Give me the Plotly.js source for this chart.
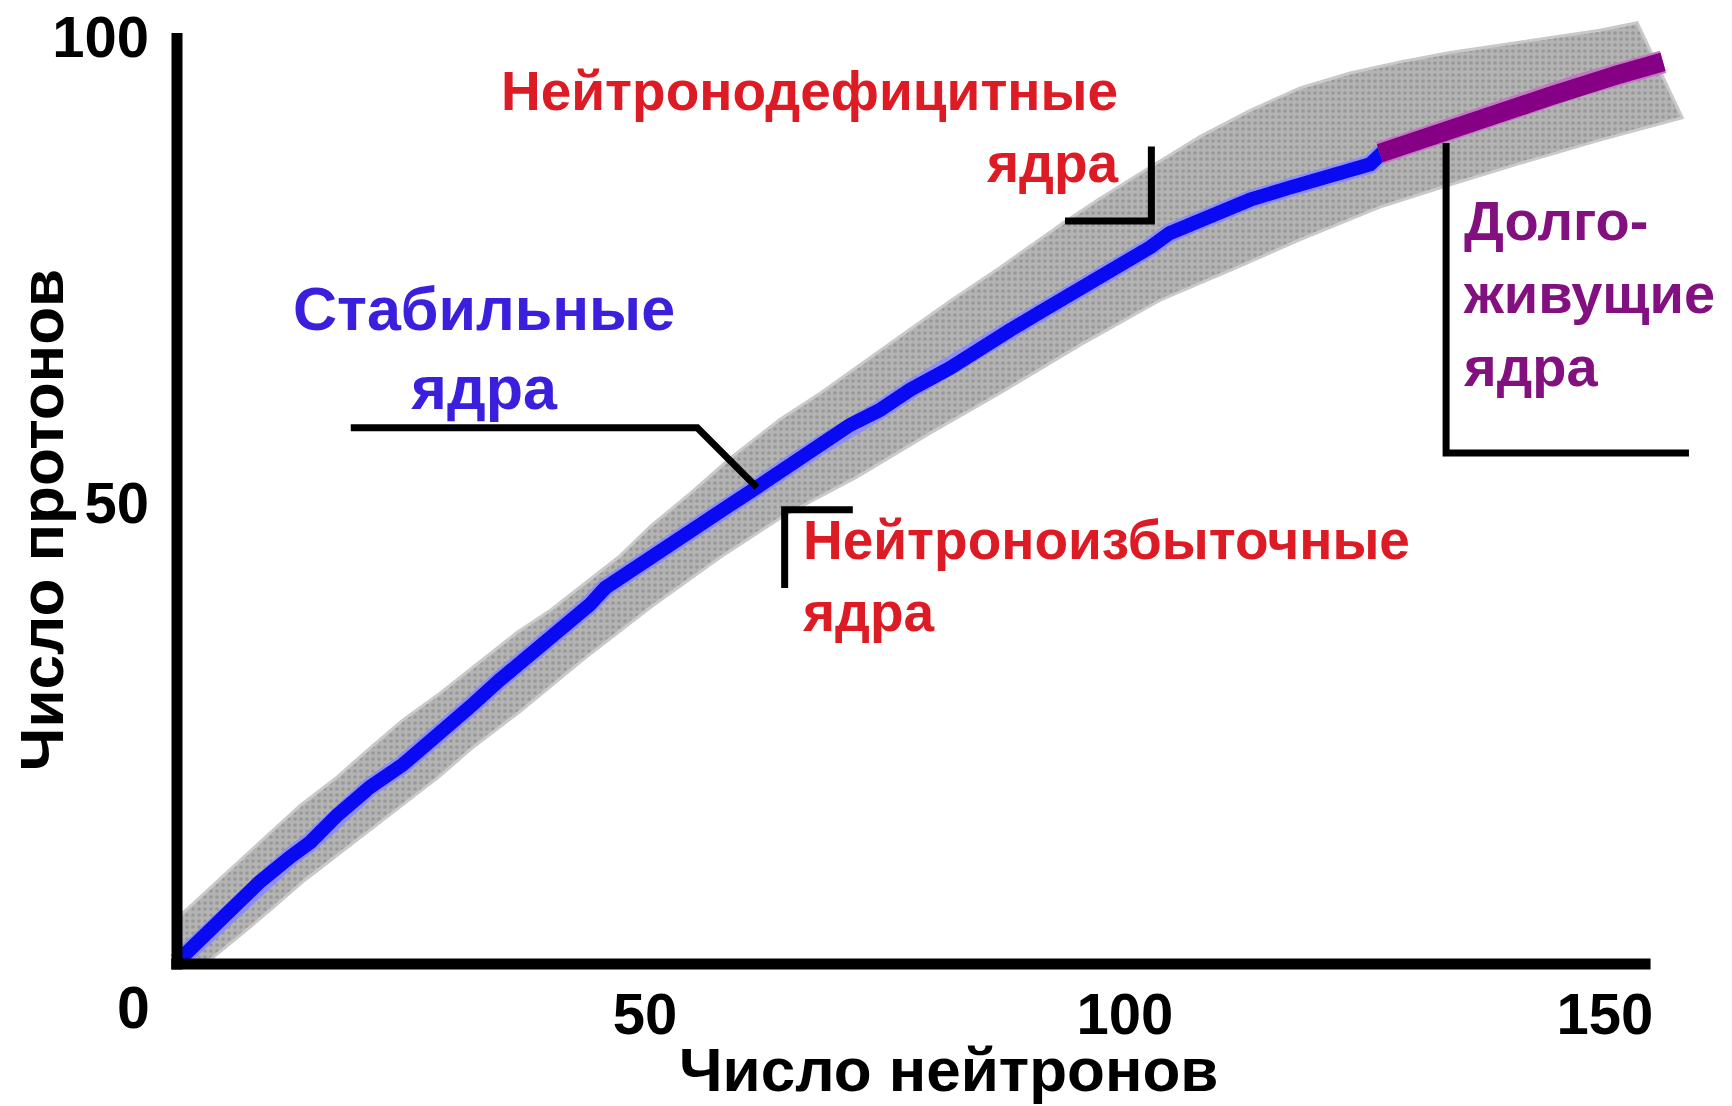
<!DOCTYPE html>
<html>
<head>
<meta charset="utf-8">
<script src="https://cdn.plot.ly/plotly-3.0.1.min.js"></script>
<style>
  html, body { margin: 0; padding: 0; background: #ffffff; }
  #chart { width: 1732px; height: 1106px; }
</style>
</head>
<body>
<div id="chart"></div>
<script>
// ---------- DATA ----------
// Stable nuclei line (blue)
const neutronsStable = [0.0, 2.4, 5.5, 8.6, 11.8, 13.9, 16.7, 20.1, 23.5, 26.4, 30.5, 33.6, 36.8, 39.9, 43.0, 44.6, 47.2, 50.3, 54.5, 57.6, 60.4, 63.9, 67.0, 70.1, 73.2, 76.4, 80.5, 83.6, 86.8, 89.9, 93.0, 95.1, 97.2, 99.3, 101.4, 103.4, 106.6, 111.8, 115.9, 119.1, 122.2, 124.3, 125.6];
const protonsStable  = [0.2, 2.6, 5.8, 8.8, 11.5, 13.1, 16.0, 19.0, 21.4, 23.8, 27.6, 30.5, 33.2, 35.7, 38.6, 40.4, 42.1, 44.3, 47.2, 49.3, 51.2, 53.6, 55.7, 57.9, 59.5, 61.7, 64.0, 66.2, 68.1, 70.0, 71.8, 73.3, 74.5, 75.8, 77.0, 78.5, 79.9, 82.1, 83.4, 84.4, 85.3, 85.9, 87.2];

// Long-lived nuclei line (purple)
const neutronsLong = [125.3, 127.4, 132.3, 135.7, 139.2, 143.0, 146.1, 150.3, 154.8];
const protonsLong  = [87.1, 87.9, 89.6, 90.8, 91.9, 93.2, 94.4, 95.6, 96.9];

// Grey band of known nuclei: upper (neutron-deficient) edge
const bandUpperN = [0.0, 2.4, 5.5, 9.7, 12.8, 16.7, 20.1, 23.5, 27.4, 30.5, 35.4, 38.9, 42.3, 46.1, 49.3, 53.4, 57.6, 62.8, 67.0, 70.1, 75.3, 80.5, 85.7, 92.3, 96.1, 101.4, 106.6, 111.8, 117.0, 122.2, 127.4, 132.6, 137.8, 143.0, 148.2, 152.1, 156.8];
const bandUpperZ = [4.9, 7.2, 10.1, 14.1, 17.0, 20.1, 23.2, 26.2, 29.1, 31.6, 35.6, 38.0, 40.7, 43.8, 47.0, 50.5, 54.3, 58.5, 61.3, 63.6, 67.4, 71.2, 74.8, 79.6, 82.2, 85.6, 88.9, 91.7, 94.1, 95.7, 96.9, 97.9, 98.7, 99.5, 100.3, 101.1, 90.9];
// lower (neutron-rich) edge
const bandLowerN = [0.0, 2.9, 6.6, 9.7, 13.3, 16.7, 20.1, 23.5, 27.4, 30.5, 35.7, 42.3, 49.3, 56.6, 63.3, 70.8, 78.4, 85.7, 94.1, 102.4, 109.7, 117.0, 125.3, 132.6, 139.9, 148.2, 156.8];
const bandLowerZ = [0.0, 0.0, 3.1, 5.8, 9.0, 11.7, 14.4, 17.1, 20.2, 23.0, 27.1, 32.7, 38.3, 43.7, 48.2, 52.3, 57.0, 61.3, 66.5, 71.3, 74.5, 77.8, 81.3, 83.7, 86.0, 88.5, 90.9];

// Axis ticks and texts
const xTickVals = [50, 100, 150];
const yTickVals = [50, 100];
const xTitle = 'Число нейтронов';
const yTitle = 'Число протонов';
const labelDeficient = 'Нейтронодефицитные<br>ядра';
const labelStable = 'Стабильные<br>ядра';
const labelExcess = 'Нейтроноизбыточные<br>ядра';
const labelLong = 'Долго-<br>живущие<br>ядра';

// ---------- BUILD ----------
const FONT = 'Liberation Sans, Arial, Helvetica, sans-serif';

const bandN = bandUpperN.concat(bandLowerN.slice().reverse());
const bandZ = bandUpperZ.concat(bandLowerZ.slice().reverse());

const traces = [
  {
    x: bandN, y: bandZ, type: 'scatter', mode: 'lines',
    fill: 'toself', fillcolor: '#b3b3b3',
    fillpattern: {shape: '.', bgcolor: '#b4b4b4', fgcolor: '#999999', size: 6, solidity: 0.3},
    line: {color: '#c9c9c9', width: 3},
    hoverinfo: 'skip', showlegend: false
  },
  {
    x: neutronsStable, y: protonsStable, type: 'scatter', mode: 'lines',
    line: {color: '#8e8ef6', width: 19}, hoverinfo: 'skip', showlegend: false
  },
  {
    x: neutronsStable, y: protonsStable, type: 'scatter', mode: 'lines',
    line: {color: '#0a0af2', width: 14}, hoverinfo: 'skip', showlegend: false
  },
  {
    x: neutronsLong, y: protonsLong, type: 'scatter', mode: 'lines',
    line: {color: '#c27ac2', width: 23}, hoverinfo: 'skip', showlegend: false
  },
  {
    x: neutronsLong, y: protonsLong, type: 'scatter', mode: 'lines',
    line: {color: '#850085', width: 19}, hoverinfo: 'skip', showlegend: false
  }
];

// pointer of the "stable" label ends on the stable line
const pStable = [neutronsStable[20], protonsStable[20]];

const blk = {color: '#000000', width: 7};
const shapes = [
  // axis lines
  {type: 'line', xref: 'x', yref: 'y', x0: 0, x1: 0, y0: -0.6, y1: 100, line: {color: '#000', width: 11}},
  {type: 'line', xref: 'x', yref: 'y', x0: -0.6, x1: 153.5, y0: 0, y1: 0, line: {color: '#000', width: 11}},
  // label pointers
  {type: 'path', xref: 'x', yref: 'y', path: `M 18.1 57.6 L 54.2 57.6 L ${pStable[0]} ${pStable[1]}`, line: blk},
  {type: 'path', xref: 'x', yref: 'y', path: 'M 92.5 79.8 L 101.5 79.8 L 101.5 87.8', line: blk},
  {type: 'path', xref: 'x', yref: 'y', path: 'M 63.3 40.4 L 63.3 48.8 L 70.4 48.8', line: blk},
  {type: 'path', xref: 'x', yref: 'y', path: 'M 132.2 88.2 L 132.2 54.9 L 157.5 54.9', line: blk}
];

const annotations = [
  {text: labelDeficient, xref: 'x', yref: 'y', x: 98.3, y: 89.9, xanchor: 'right', yanchor: 'middle', align: 'right',
   showarrow: false, font: {family: FONT, size: 55, color: '#dd1b24', weight: 'bold'}},
  {text: labelStable, xref: 'x', yref: 'y', x: 32.0, y: 66.1, xanchor: 'center', yanchor: 'middle', align: 'center',
   showarrow: false, font: {family: FONT, size: 61, color: '#3a20dc', weight: 'bold'}},
  {text: labelExcess, xref: 'x', yref: 'y', x: 64.9, y: 41.7, xanchor: 'left', yanchor: 'middle', align: 'left',
   showarrow: false, font: {family: FONT, size: 55, color: '#dd1b24', weight: 'bold'}},
  {text: labelLong, xref: 'x', yref: 'y', x: 133.8, y: 72.0, xanchor: 'left', yanchor: 'middle', align: 'left',
   showarrow: false, font: {family: FONT, size: 56, color: '#82107f', weight: 'bold'}},
  // origin label
  {text: '0', xref: 'paper', yref: 'paper', x: -0.0175, y: -0.034, xanchor: 'center', yanchor: 'middle',
   showarrow: false, font: {family: FONT, size: 59, color: '#000', weight: 'bold'}},
  // axis titles
  {text: xTitle, xref: 'paper', yref: 'paper', x: 0.5123, y: -0.0985, xanchor: 'center', yanchor: 'middle',
   showarrow: false, font: {family: FONT, size: 62, color: '#000', weight: 'bold'}},
  {text: yTitle, xref: 'paper', yref: 'paper', x: -0.0765, y: 0.4725, xanchor: 'center', yanchor: 'middle',
   textangle: -90, showarrow: false, font: {family: FONT, size: 62, color: '#000', weight: 'bold'}}
];

const layout = {
  width: 1732, height: 1106,
  margin: {l: 160, r: 32, t: 12, b: 131, pad: 0},
  paper_bgcolor: '#ffffff', plot_bgcolor: '#ffffff',
  showlegend: false,
  xaxis: {
    range: [-1.771, 158.65], showgrid: false, zeroline: false, showline: false,
    tickmode: 'array', tickvals: xTickVals, ticks: '',
    tickfont: {family: FONT, size: 58, color: '#000', weight: 'bold'},
    ticklabelstandoff: 0, ticklabelshift: -12, ticklabeloverflow: 'allow', fixedrange: true
  },
  yaxis: {
    range: [-1.18, 102.26], showgrid: false, zeroline: false, showline: false,
    tickmode: 'array', tickvals: yTickVals, ticks: '',
    tickfont: {family: FONT, size: 58, color: '#000', weight: 'bold'},
    ticklabelstandoff: 10, ticklabelshift: 4, ticklabeloverflow: 'allow', fixedrange: true
  },
  shapes: shapes,
  annotations: annotations,
  hovermode: false
};

Plotly.newPlot('chart', traces, layout, {displayModeBar: false, staticPlot: true});
</script>
</body>
</html>
